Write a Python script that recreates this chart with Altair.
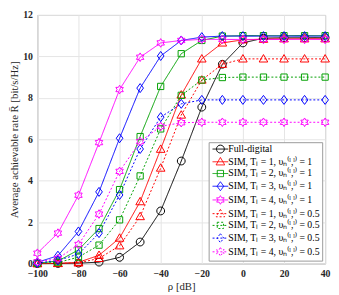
import altair as alt
import pandas as pd

rho = [-100, -90, -80, -70, -60, -50, -40, -30, -20, -10, 0, 10, 20, 30, 40]

series_names = [
    "Full-digital",
    "SIM, Tₗ = 1, υₙ⁽ˡ,ˡ⁾ = 1",
    "SIM, Tₗ = 2, υₙ⁽ˡ,ˡ⁾ = 1",
    "SIM, Tₗ = 3, υₙ⁽ˡ,ˡ⁾ = 1",
    "SIM, Tₗ = 4, υₙ⁽ˡ,ˡ⁾ = 1",
    "SIM, Tₗ = 1, υₙ⁽ˡ,ˡ⁾ = 0.5",
    "SIM, Tₗ = 2, υₙ⁽ˡ,ˡ⁾ = 0.5",
    "SIM, Tₗ = 3, υₙ⁽ˡ,ˡ⁾ = 0.5",
    "SIM, Tₗ = 4, υₙ⁽ˡ,ˡ⁾ = 0.5",
]

full_digital = [0.0, 0.005, 0.02, 0.07, 0.3, 1.04, 2.54, 4.95, 7.55, 9.62, 10.65, 10.88, 10.9, 10.9, 10.9]
sim_t1_v1 = [0.0, 0.01, 0.06, 0.4, 1.23, 2.99, 5.52, 8.14, 9.88, 10.65, 10.8, 10.83, 10.85, 10.85, 10.85]
sim_t2_v1 = [0.02, 0.12, 0.66, 1.69, 3.57, 6.13, 8.55, 10.13, 10.77, 10.98, 11.0, 11.0, 11.0, 11.0, 11.0]
sim_t3_v1 = [0.06, 0.38, 1.55, 3.46, 6.05, 8.47, 10.02, 10.77, 10.93, 10.98, 10.98, 10.98, 10.98, 10.98, 10.98]
sim_t4_v1 = [0.5, 1.47, 3.3, 5.84, 8.4, 9.96, 10.65, 10.77, 10.82, 10.82, 10.82, 10.82, 10.82, 10.82, 10.82]
sim_t1_v05 = [0.0, 0.005, 0.03, 0.25, 0.86, 2.27, 4.61, 7.17, 8.86, 9.62, 9.88, 9.88, 9.88, 9.88, 9.88]
sim_t2_v05 = [0.01, 0.05, 0.31, 0.89, 2.11, 4.23, 6.5, 8.12, 8.86, 8.98, 9.0, 9.0, 9.0, 9.0, 9.0]
sim_t3_v05 = [0.02, 0.15, 0.46, 1.47, 3.31, 5.53, 7.07, 7.71, 7.9, 7.9, 7.9, 7.9, 7.9, 7.9, 7.9]
sim_t4_v05 = [0.08, 0.24, 0.92, 2.39, 4.45, 5.89, 6.62, 6.8, 6.82, 6.82, 6.82, 6.82, 6.82, 6.82, 6.82]

all_series = [full_digital, sim_t1_v1, sim_t2_v1, sim_t3_v1, sim_t4_v1,
              sim_t1_v05, sim_t2_v05, sim_t3_v05, sim_t4_v05]

colors = ["#000000", "#FF0000", "#00A000", "#0000FF", "#FF00FF",
          "#FF0000", "#00A000", "#0000FF", "#FF00FF"]
dashes = [[1, 0]] * 5 + [[2, 2]] * 4

circle = "M1,0A1,1,0,1,1,-1,0A1,1,0,1,1,1,0Z"
triangle = "M0,-1.1L1.1,0.8L-1.1,0.8Z"
square = "M-0.8,-0.8L0.8,-0.8L0.8,0.8L-0.8,0.8Z"
diamond = "M0,-1.15L0.85,0L0,1.15L-0.85,0Z"
hexagram = ("M0,-1.1L0.3175,-0.55L0.9526,-0.55L0.635,0L0.9526,0.55L0.3175,0.55"
            "L0,1.1L-0.3175,0.55L-0.9526,0.55L-0.635,0L-0.9526,-0.55L-0.3175,-0.55Z")
markers = [circle, triangle, square, diamond, hexagram,
           triangle, square, diamond, hexagram]
legend_markers = ["M-2,0L2,0" + m for m in markers]

rows = []
for name, vals in zip(series_names, all_series):
    for x, v in zip(rho, vals):
        rows.append({"rho": x, "rate": v, "series": name})
df = pd.DataFrame(rows)

serif = "Liberation Serif"

x_enc = alt.X("rho:Q", scale=alt.Scale(domain=[-100, 40], nice=False),
              axis=alt.Axis(values=[-100, -80, -60, -40, -20, 0, 20, 40],
                            title="ρ [dB]", titleFont=serif, titleFontSize=11,
                            titleFontWeight="normal", titleColor="#262626",
                            titlePadding=2, labelFont=serif, labelFontSize=10,
                            labelFontWeight="bold", labelColor="#262626",
                            labelPadding=5, ticks=False, domain=False,
                            gridColor="#e4e4e4", labelFlush=False))
y_enc = alt.Y("rate:Q", scale=alt.Scale(domain=[0, 12], nice=False),
              axis=alt.Axis(values=[0, 2, 4, 6, 8, 10, 12],
                            title="Average achievable rate R̄ [bit/s/Hz]",
                            titleFont=serif, titleFontSize=11,
                            titleFontWeight="normal", titleColor="#262626",
                            titlePadding=3, labelFont=serif, labelFontSize=10,
                            labelFontWeight="bold", labelColor="#262626",
                            labelPadding=5, ticks=False, domain=False,
                            gridColor="#e4e4e4"))

color_scale = alt.Scale(domain=series_names, range=colors)
dash_scale = alt.Scale(domain=series_names, range=dashes)

base = alt.Chart(df)

lines = base.mark_line(strokeWidth=1).encode(
    x=x_enc, y=y_enc,
    color=alt.Color("series:N", scale=color_scale, legend=None, sort=series_names),
    strokeDash=alt.StrokeDash("series:N", scale=dash_scale, legend=None, sort=series_names),
)

points = base.mark_point(filled=False, size=64, strokeWidth=1, opacity=1).encode(
    x=x_enc, y=y_enc,
    color=alt.Color("series:N", scale=color_scale, legend=None, sort=series_names),
    shape=alt.Shape("series:N", scale=alt.Scale(domain=series_names, range=markers),
                    legend=None, sort=series_names),
)

leg = alt.Legend(title=None, orient="bottom-right", offset=3, padding=2,
                 fillColor="white", strokeColor="#9a9a9a", cornerRadius=0,
                 labelFont=serif, labelFontSize=10, labelColor="#000000",
                 symbolSize=64, symbolStrokeWidth=1, symbolOpacity=1,
                 symbolOffset=5, labelOffset=3, rowPadding=0, labelLimit=200)

legend_layer = base.mark_point(filled=False, size=64, strokeWidth=1, opacity=0).encode(
    x=x_enc, y=y_enc,
    color=alt.Color("series:N", scale=color_scale, legend=leg, sort=series_names),
    shape=alt.Shape("series:N", scale=alt.Scale(domain=series_names, range=legend_markers),
                    legend=leg, sort=series_names),
    strokeDash=alt.StrokeDash("series:N", scale=dash_scale, legend=leg, sort=series_names),
)

chart = alt.layer(lines, points, legend_layer).resolve_scale(
    shape="independent", color="independent", strokeDash="independent"
).properties(
    width=294, height=254, autosize="none",
    padding={"left": 30, "top": 4, "right": 6, "bottom": 29},
).configure_view(stroke="#9a9a9a", strokeWidth=1)

chart.save("out.html", embed_options={"renderer": "svg", "actions": False})
